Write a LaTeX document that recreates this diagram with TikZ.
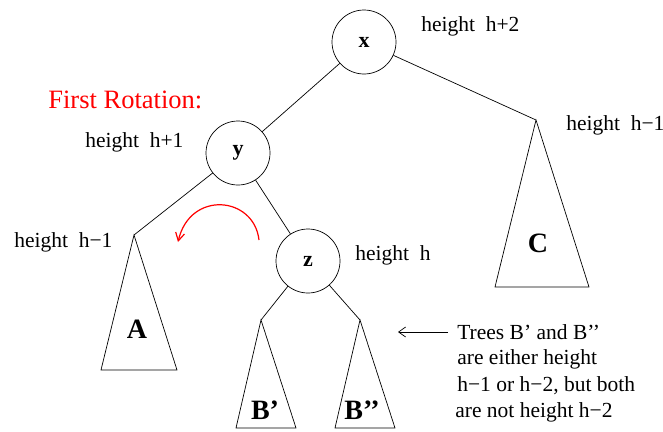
\documentclass[tikz,border=0pt]{standalone}
\usepackage{fontspec}
\setmainfont{Liberation Serif}
\usetikzlibrary{arrows.meta}
\begin{document}
\begin{tikzpicture}[x=1pt,y=-1pt,
  every path/.style={line width=0.7pt},
  treenode/.style={draw,circle,minimum size=64pt,inner sep=0pt,font=\fontsize{22}{24}\selectfont\bfseries},
  sublabel/.style={font=\fontsize{28}{30}\selectfont\bfseries,inner sep=0pt},
  htext/.style={font=\fontsize{21.5}{24}\selectfont,anchor=west,inner sep=0pt},
  note/.style={font=\fontsize{21.5}{24}\selectfont,anchor=west,inner sep=0pt}]
\useasboundingbox (0,0) rectangle (663,431);
% nodes
\node[treenode] (x) at (364,42) {x};
\node[treenode] (y) at (238,153) {y};
\node[treenode] (z) at (308,261) {z};
% subtree apexes and bases
\coordinate (Ca) at (536,120);
\coordinate (Cl) at (495,287);
\coordinate (Cr) at (589,287);
\coordinate (Aa) at (134,235);
\coordinate (Al) at (101,370);
\coordinate (Ar) at (177,370);
\coordinate (B1a) at (261,320);
\coordinate (B1l) at (236,428);
\coordinate (B1r) at (296,428);
\coordinate (B2a) at (360,320);
\coordinate (B2l) at (335,428);
\coordinate (B2r) at (395,428);
% edges
\draw (x) -- (y);
\draw (x) -- (Ca);
\draw (y) -- (Aa);
\draw (y) -- (z);
\draw (z) -- (B1a);
\draw (z) -- (B2a);
% triangles
\draw (Ca) -- (Cl) -- (Cr) -- cycle;
\draw (Aa) -- (Al) -- (Ar) -- cycle;
\draw (B1a) -- (B1l) -- (B1r) -- cycle;
\draw (B2a) -- (B2l) -- (B2r) -- cycle;
% subtree labels
\node[sublabel] (lC) at (538,243) {C};
\node[sublabel] (lA) at (137,329) {A};
\node[sublabel] (lB1) at (265,410) {B’};
\node[sublabel] (lB2) at (362,410) {B’’};
% height labels
\node[htext] (hx) at (421,26) {height~~h+2};
\node[htext] (hy) at (85,142) {height~~h+1};
\node[htext] (hC) at (566,125) {height~~h−1};
\node[htext] (hA) at (14,242) {height~~h−1};
\node[htext] (hz) at (355,255) {height~~h};
% first rotation
\node[htext,text=red,font=\fontsize{26.5}{28}\selectfont] (fr) at (48,100) {First Rotation:};
\coordinate (rs) at (259,240);
\coordinate (re) at (178,242);
\draw[red,line width=1.2pt,-{Straight Barb[length=8pt,width=9pt]}] (rs) .. controls (254,196) and (190,190) .. (re);
% note
\node[note] (n1) at (457,332) {Trees B’ and B’’};
\node[note] (n2) at (457,359) {are either height};
\node[note] (n3) at (457,386) {h−1 or h−2, but both};
\node[note] (n4) at (455,412) {are not height h−2};
\coordinate (arrS) at (448,332);
\coordinate (arrE) at (398,332);
\draw[-{Straight Barb[length=7pt,width=10pt]}] (arrS) -- (arrE);
\end{tikzpicture}
\end{document}
